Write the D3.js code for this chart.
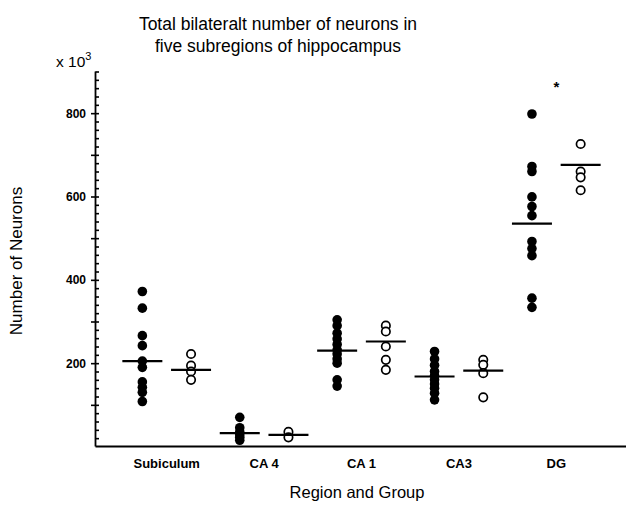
<!DOCTYPE html>
<html><head><meta charset="utf-8">
<script src="https://cdn.jsdelivr.net/npm/d3@7"></script>
<style>body{margin:0;background:#fff}svg{display:block;font-family:"Liberation Sans",Arial,sans-serif}</style>
</head><body>
<svg id="c" width="626" height="505"></svg>
<script>
const categories = ["Subiculum", "CA 4", "CA 1", "CA3", "DG"];
const groups = ["filled", "open"];
const filledValues = [
  [372, 332, 266, 242, 205, 190, 155, 142, 130, 108],
  [70, 45, 35, 28, 22, 15],
  [304, 290, 272, 258, 245, 232, 222, 210, 200, 160, 145],
  [228, 210, 195, 180, 170, 160, 150, 140, 128, 112],
  [798, 672, 660, 599, 576, 554, 492, 475, 458, 356, 334]
];
const openValues = [
  [222, 194, 180, 160],
  [35, 22],
  [290, 276, 240, 208, 184],
  [208, 196, 176, 118],
  [726, 660, 646, 615]
];
const filledMeans = [205, 32, 230, 168, 535];
const openMeans = [184, 28, 252, 182, 676];
const yTickLabels = [200, 400, 600, 800];

const svg = d3.select("#c");
const y = d3.scaleLinear().domain([0, 900]).range([446.5, 71.5]);
const x = d3.scaleBand().domain(categories).range([118, 605]);
const xs = d3.scaleBand().domain(groups).range([0, x.bandwidth()]);
const cx = (c, g) => x(c) + xs(g) + xs.bandwidth() / 2;

// axes
const axisX = 95.5;
svg.append("line").attr("x1", axisX).attr("x2", axisX).attr("y1", y(900)).attr("y2", y(0))
  .attr("stroke", "#000").attr("stroke-width", 1.8);
svg.append("line").attr("x1", axisX).attr("x2", 626).attr("y1", y(0)).attr("y2", y(0))
  .attr("stroke", "#000").attr("stroke-width", 1.8);

// minor ticks (inside, every 20)
const yAx = svg.append("g").attr("transform", `translate(${axisX},0)`)
  .call(d3.axisRight(y).tickValues(d3.range(20, 901, 20)).tickSize(3.5).tickFormat(""));
yAx.select(".domain").remove();
yAx.selectAll("line").attr("stroke-width", 1.6).attr("stroke", "#000");
// hundreds ticks (outside)
const yAx2 = svg.append("g").attr("transform", `translate(${axisX},0)`)
  .call(d3.axisLeft(y).tickValues(d3.range(100, 900, 100)).tickSize(4.5)
    .tickFormat(d => yTickLabels.includes(d) ? d : "").tickPadding(5));
yAx2.select(".domain").remove();
yAx2.selectAll("line").attr("stroke-width", 1.6).attr("stroke", "#000");
yAx2.selectAll("text").attr("font-size", 12).attr("font-weight", "bold")
  .attr("font-family", "Liberation Sans, Arial, sans-serif").attr("fill", "#000");

// x labels
const xAx = svg.append("g").attr("transform", `translate(0,${y(0)})`)
  .call(d3.axisBottom(x).tickSize(0).tickPadding(12));
xAx.select(".domain").remove();
xAx.selectAll("text").attr("font-size", 13).attr("font-weight", "bold")
  .attr("font-family", "Liberation Sans, Arial, sans-serif").attr("fill", "#000");

// points
categories.forEach((c, i) => {
  svg.append("g").selectAll("circle").data(filledValues[i]).join("circle")
    .attr("cx", cx(c, "filled")).attr("cy", d => y(d)).attr("r", 4.8).attr("fill", "#000");
  svg.append("g").selectAll("circle").data(openValues[i]).join("circle")
    .attr("cx", cx(c, "open")).attr("cy", d => y(d)).attr("r", 4.2).attr("fill", "#fff")
    .attr("stroke", "#000").attr("stroke-width", 1.7);
  svg.append("line").attr("x1", cx(c, "filled") - 20).attr("x2", cx(c, "filled") + 20)
    .attr("y1", y(filledMeans[i])).attr("y2", y(filledMeans[i])).attr("stroke", "#000").attr("stroke-width", 2.2);
  svg.append("line").attr("x1", cx(c, "open") - 20).attr("x2", cx(c, "open") + 20)
    .attr("y1", y(openMeans[i])).attr("y2", y(openMeans[i])).attr("stroke", "#000").attr("stroke-width", 2.2);
});

// asterisk
svg.append("text").attr("x", x("DG") + x.bandwidth() / 2).attr("y", 92).attr("text-anchor", "middle")
  .attr("font-size", 15).attr("font-weight", "bold").text("*");

// titles
svg.append("text").attr("x", 278).attr("y", 30).attr("text-anchor", "middle").attr("font-size", 17.5)
  .text("Total bilateralt number of neurons in");
svg.append("text").attr("x", 278).attr("y", 52).attr("text-anchor", "middle").attr("font-size", 17.5)
  .text("five subregions of hippocampus");
const mult = svg.append("text").attr("x", 56).attr("y", 67).attr("font-size", 15.5);
mult.append("tspan").text("x 10");
mult.append("tspan").attr("dy", -7).attr("font-size", 11).text("3");
svg.append("text").attr("transform", "translate(22,261) rotate(-90)").attr("text-anchor", "middle")
  .attr("font-size", 17).text("Number of Neurons");
svg.append("text").attr("x", 357).attr("y", 498).attr("text-anchor", "middle")
  .attr("font-size", 16.5).text("Region and Group");
</script>
</body></html>
